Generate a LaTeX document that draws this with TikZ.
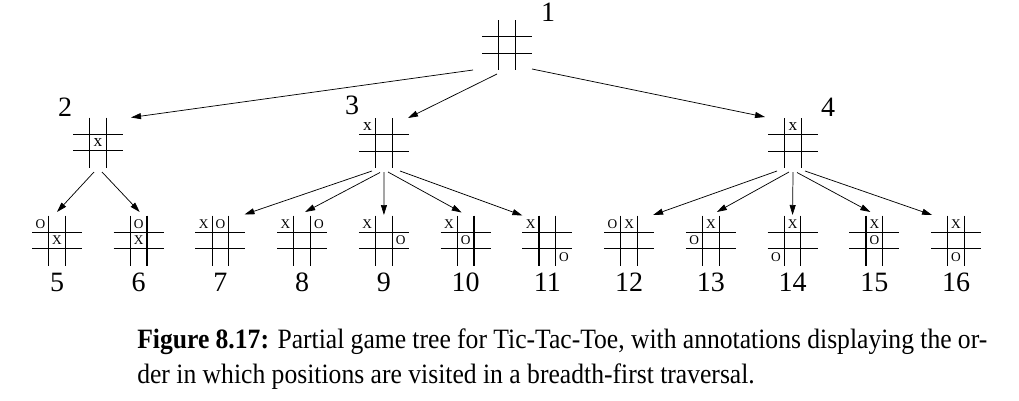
\documentclass[tikz,border=0pt]{standalone}
\usepackage{graphicx}
\usepackage{fontspec}
\setmainfont{Liberation Serif}
\usetikzlibrary{calc,arrows.meta}
\tikzset{
  boardnode/.style={minimum width=37.5pt,minimum height=37.5pt,inner sep=0pt,draw=none},
  gridline/.style={line width=0.85pt,black},
  arr/.style={line width=0.55pt,-{Triangle[length=7.5pt,width=4.5pt]}},
  toplbl/.style={inner sep=0pt,font=\fontsize{21}{25}\selectfont},
  botlbl/.style={inner sep=0pt,anchor=base,font=\fontsize{21}{25}\selectfont},
  mkbig/.style={inner sep=0pt,font=\fontsize{13}{15}\selectfont},
  mksmall/.style={inner sep=0pt,font=\fontsize{10}{12}\selectfont},
  captxt/.style={inner sep=0pt,anchor=base west,font=\fontsize{21}{25}\selectfont}
}
\newcommand\tttgrid[1]{%
  \draw[gridline] ($(#1.center)+(-8.33,-25)$) -- ($(#1.center)+(-8.33,25)$)
                  ($(#1.center)+(8.33,-25)$) -- ($(#1.center)+(8.33,25)$)
                  ($(#1.center)+(-25,-8.33)$) -- ($(#1.center)+(25,-8.33)$)
                  ($(#1.center)+(-25,8.33)$) -- ($(#1.center)+(25,8.33)$);}
\newcommand\putmk[5]{\node[#4] at ($(#1.center)+(#2*16.67,#3*16.67)$) {#5};}
\begin{document}
\begin{tikzpicture}[x=0.75pt,y=-0.75pt]
\useasboundingbox (0,0) rectangle (1019,400);
% boards
\node[boardnode] (b1) at (507,45) {};
\node[boardnode] (b2) at (98,142.5) {};
\node[boardnode] (b3) at (384,143) {};
\node[boardnode] (b4) at (793,143) {};
\foreach \i [count=\k from 0] in {5,...,16}{
  \node[boardnode] (b\i) at ({57+81.73*\k},240.5) {};
  \node[botlbl] (l\i) at ({57+81.73*\k},291) {\i};
}
\foreach \i in {1,...,16}{\tttgrid{b\i}}
% top labels
\node[toplbl] (l1) at (548,12) {1};
\node[toplbl] (l2) at (65,107) {2};
\node[toplbl] (l3) at (352,105) {3};
\node[toplbl] (l4) at (828,107) {4};
% marks
\putmk{b2}{0}{0}{mkbig}{x}
\putmk{b3}{-1}{-1}{mkbig}{x}
\putmk{b4}{0}{-1}{mkbig}{x}
\putmk{b5}{-1}{-1}{mksmall}{O}\putmk{b5}{0}{0}{mksmall}{X}
\putmk{b6}{0}{-1}{mksmall}{O}\putmk{b6}{0}{0}{mksmall}{X}
\putmk{b7}{-1}{-1}{mksmall}{X}\putmk{b7}{0}{-1}{mksmall}{O}
\putmk{b8}{-1}{-1}{mksmall}{X}\putmk{b8}{1}{-1}{mksmall}{O}
\putmk{b9}{-1}{-1}{mksmall}{X}\putmk{b9}{1}{0}{mksmall}{O}
\putmk{b10}{-1}{-1}{mksmall}{X}\putmk{b10}{0}{0}{mksmall}{O}
\putmk{b11}{-1}{-1}{mksmall}{X}\putmk{b11}{1}{1}{mksmall}{O}
\putmk{b12}{-1}{-1}{mksmall}{O}\putmk{b12}{0}{-1}{mksmall}{X}
\putmk{b13}{0}{-1}{mksmall}{X}\putmk{b13}{-1}{0}{mksmall}{O}
\putmk{b14}{0}{-1}{mksmall}{X}\putmk{b14}{-1}{1}{mksmall}{O}
\putmk{b15}{0}{-1}{mksmall}{X}\putmk{b15}{0}{0}{mksmall}{O}
\putmk{b16}{0}{-1}{mksmall}{X}\putmk{b16}{0}{1}{mksmall}{O}
% arrows
\draw[arr] ($(b1.center)+(-34,25)$) -- ($(b2.center)+(33,-25)$);
\draw[arr] ($(b1.center)+(-10,29)$) -- ($(b3.center)+(24,-25)$);
\draw[arr] ($(b1.center)+(25,24)$) -- ($(b4.center)+(-28,-26)$);
\draw[arr] ($(b2.center)+(-4,29.5)$) -- ($(b5.center)+(0,-28.5)$);
\draw[arr] ($(b2.center)+(4,29.5)$) -- ($(b6.center)+(1,-28.5)$);
\draw[arr] ($(b3.center)+(-12,28)$) -- ($(b7.center)+(24,-26)$);
\draw[arr] ($(b3.center)+(-4,29.5)$) -- ($(b8.center)+(3,-28.5)$);
\draw[arr] ($(b3.center)+(0,29)$) -- ($(b9.center)+(0,-25.5)$);
\draw[arr] ($(b3.center)+(4,29)$) -- ($(b10.center)+(-4,-28)$);
\draw[arr] ($(b3.center)+(16,28)$) -- ($(b11.center)+(-25,-25)$);
\draw[arr] ($(b4.center)+(-16,28)$) -- ($(b12.center)+(24,-25.5)$);
\draw[arr] ($(b4.center)+(-4,29)$) -- ($(b13.center)+(6,-28.5)$);
\draw[arr] ($(b4.center)+(0,29)$) -- ($(b14.center)+(0,-25.5)$);
\draw[arr] ($(b4.center)+(4,29.5)$) -- ($(b15.center)+(-4,-28.5)$);
\draw[arr] ($(b4.center)+(12,28)$) -- ($(b16.center)+(-24,-25.5)$);
% caption
\node[captxt] (cap1) at (137,348) {\scalebox{0.915}[1]{\makebox[696.7pt][s]{\textbf{Figure 8.17:} Partial game tree for Tic-Tac-Toe, with annotations displaying the or-}}};
\node[captxt] (cap2) at (137,383) {\scalebox{0.915}[1]{der in which positions are visited in a breadth-first traversal.}};
\end{tikzpicture}
\end{document}
